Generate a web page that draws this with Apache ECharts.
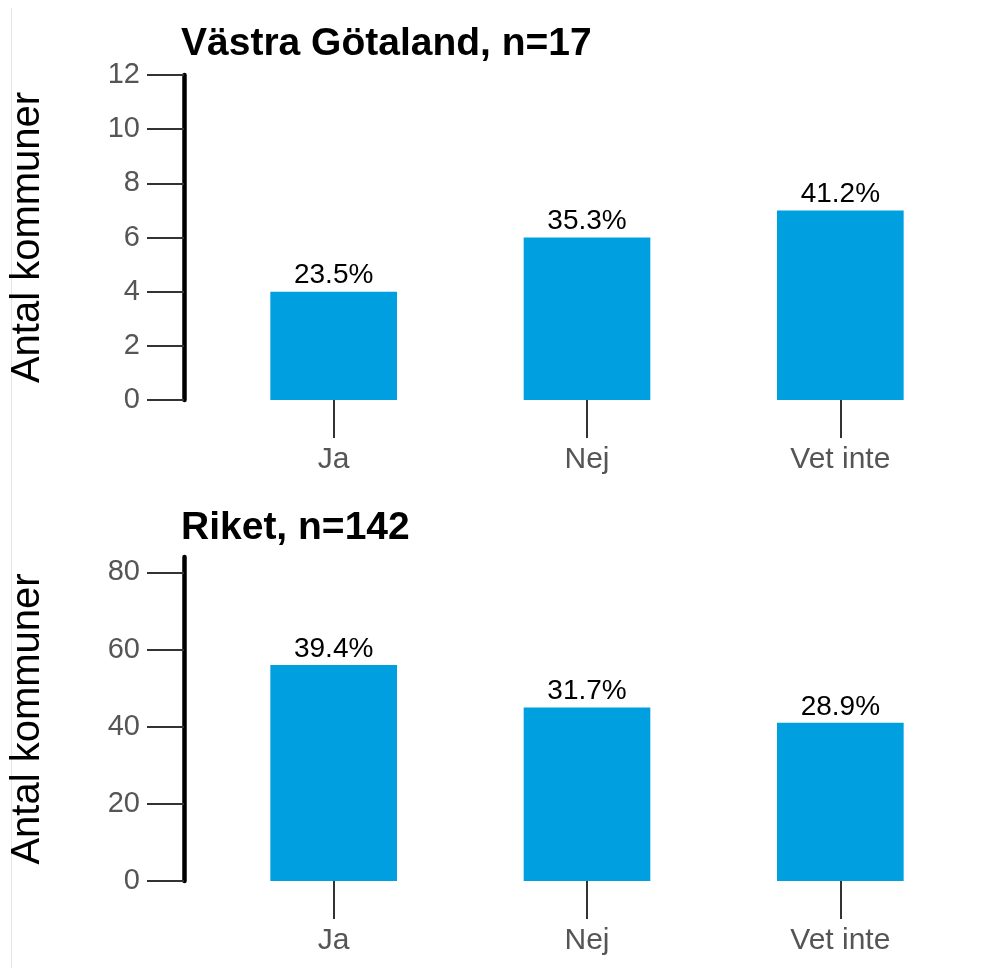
<!DOCTYPE html>
<html>
<head>
<meta charset="utf-8">
<script src="https://cdn.jsdelivr.net/npm/echarts@6/dist/echarts.min.js"></script>
<style>
html,body{margin:0;padding:0;background:#fff;}
#c{width:987px;height:968px;}
</style>
</head>
<body>
<div id="c"></div>
<script>
const categories = ['Ja', 'Nej', 'Vet inte'];
const vgCounts = [4, 6, 7];
const vgPct = ['23.5%', '35.3%', '41.2%'];
const riketCounts = [56, 45, 41];
const riketPct = ['39.4%', '31.7%', '28.9%'];
const vgTicks = [0, 2, 4, 6, 8, 10, 12];
const riketTicks = [0, 20, 40, 60, 80];
const titles = ['Västra Götaland, n=17', 'Riket, n=142'];
const yName = 'Antal kommuner';

const FONT = '"Liberation Sans", Arial, sans-serif';
const BAR = '#009FE0';

const chart = echarts.init(document.getElementById('c'), null, {renderer: 'canvas'});

function yAxisCfg(gridIndex, max, ticks) {
  return {
    type: 'value', gridIndex: gridIndex, min: 0, max: max, offset: 23,
    name: yName, nameLocation: 'middle', nameGap: 136,
    nameTextStyle: {fontFamily: FONT, fontSize: 40, color: '#000'},
    axisLine: {show: true, lineStyle: {color: '#000', width: 4.5}},
    axisTick: {show: true, length: 37, customValues: ticks, lineStyle: {color: '#333', width: 2}},
    axisLabel: {customValues: ticks, margin: 44, fontFamily: FONT, fontSize: 29, color: '#555'},
    splitLine: {show: false}
  };
}
function xAxisCfg(gridIndex) {
  return {
    type: 'category', gridIndex: gridIndex, data: categories,
    axisLine: {show: false},
    axisTick: {show: true, alignWithLabel: true, length: 38, lineStyle: {color: '#333', width: 2}},
    axisLabel: {margin: 45, fontFamily: FONT, fontSize: 30, color: '#555'}
  };
}
function barSeries(idx, vals, pct) {
  return {
    type: 'bar', xAxisIndex: idx, yAxisIndex: idx, data: vals, barWidth: '50%',
    itemStyle: {color: BAR}, animation: false,
    label: {show: true, position: 'top', distance: 2, fontFamily: FONT, fontSize: 28, color: '#000',
      formatter: p => pct[p.dataIndex]}
  };
}

chart.setOption({
  animation: false,
  title: [
    {text: titles[0], left: 176, top: 20, textStyle: {fontFamily: FONT, fontSize: 39, fontWeight: 'bold', color: '#000'}},
    {text: titles[1], left: 176, top: 504, textStyle: {fontFamily: FONT, fontSize: 39, fontWeight: 'bold', color: '#000'}}
  ],
  grid: [
    {left: 205, width: 762, top: 75, height: 325},
    {left: 205, width: 762, top: 557, height: 324}
  ],
  xAxis: [xAxisCfg(0), xAxisCfg(1)],
  yAxis: [yAxisCfg(0, 12, vgTicks), yAxisCfg(1, 84, riketTicks)],
  series: [barSeries(0, vgCounts, vgPct), barSeries(1, riketCounts, riketPct)],
  graphic: [
    {type: 'line', shape: {x1: 11.5, y1: 8, x2: 11.5, y2: 968}, style: {stroke: '#e6e6e6', lineWidth: 1}}
  ]
});
</script>
</body>
</html>
